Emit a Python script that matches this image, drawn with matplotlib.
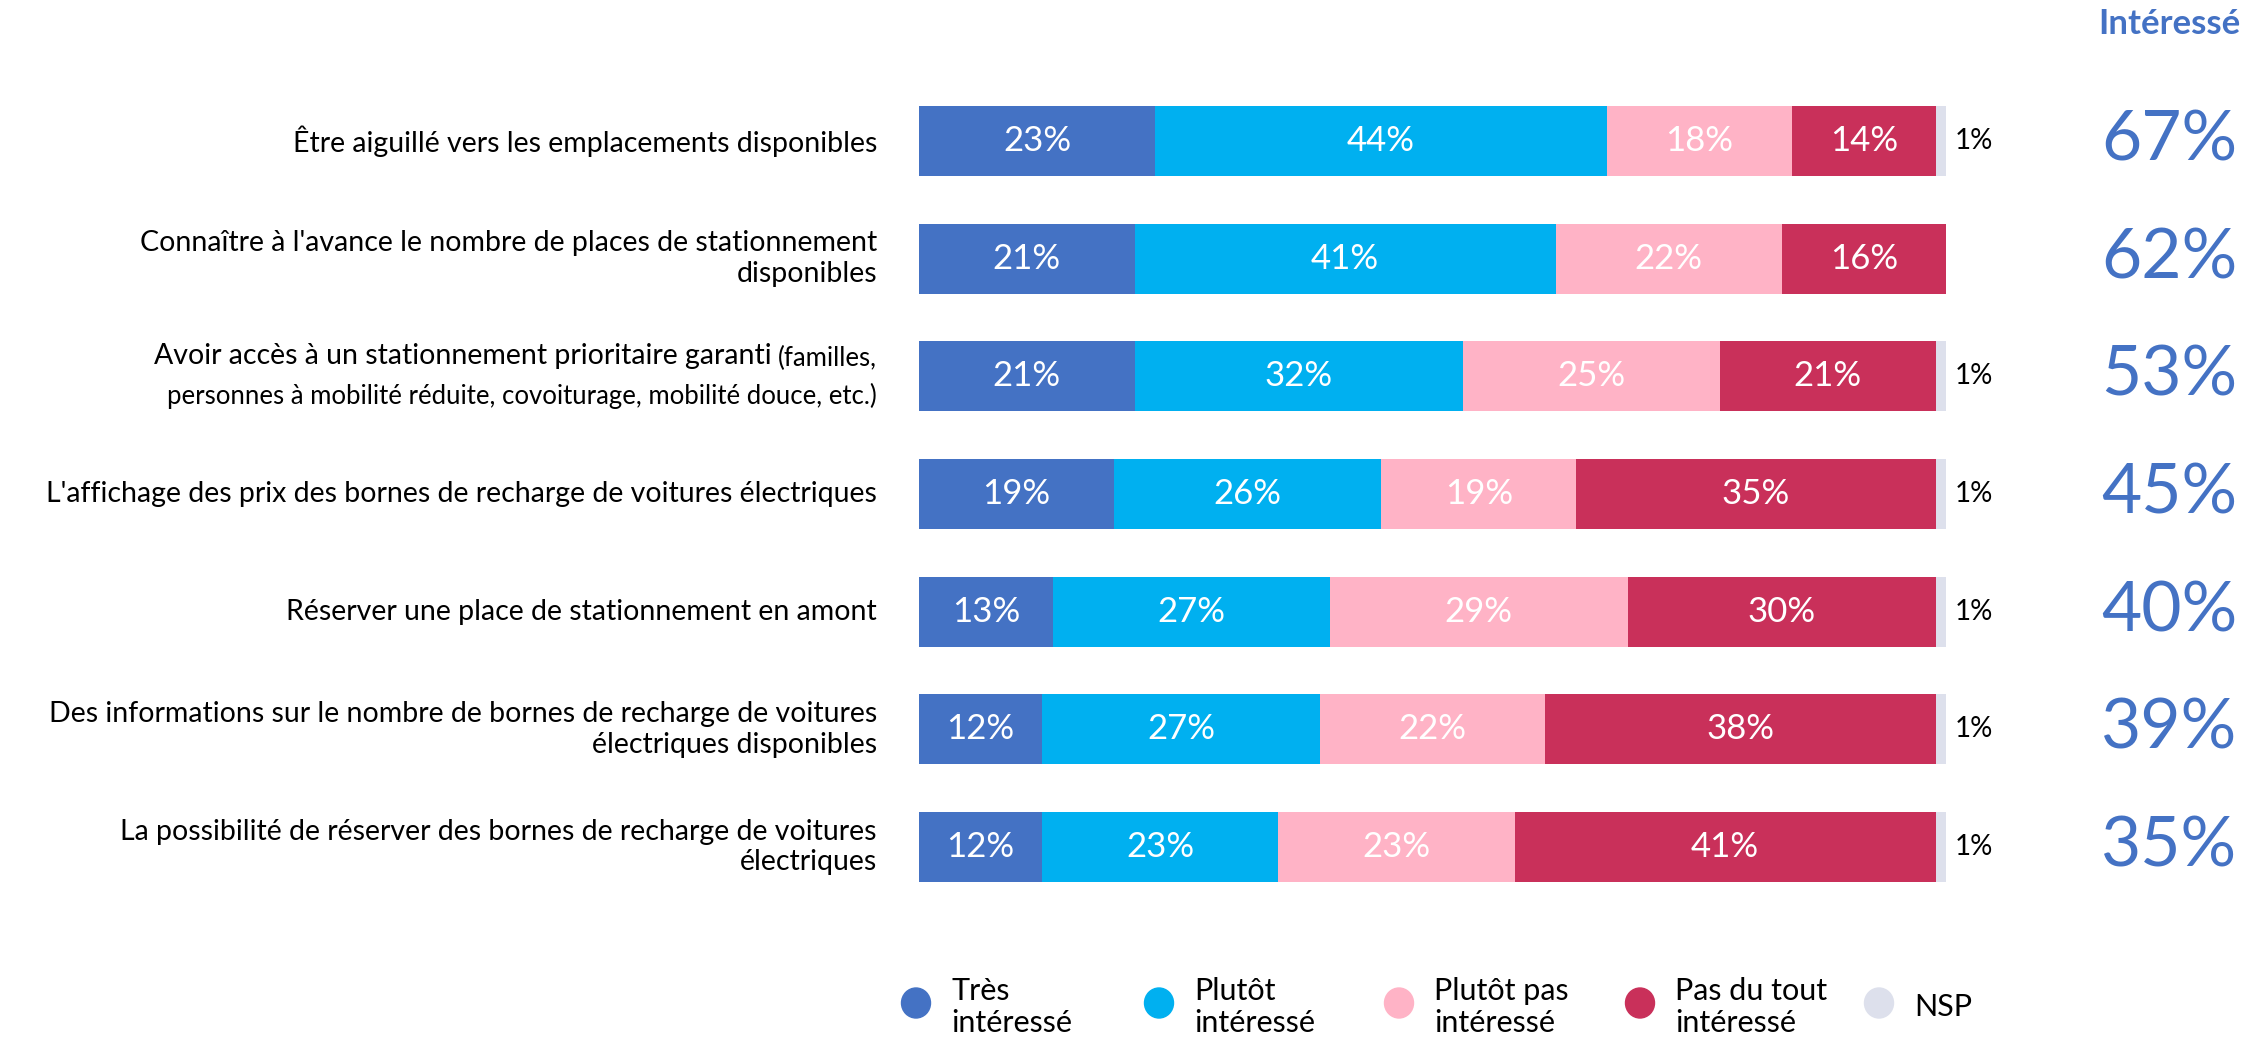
import matplotlib
matplotlib.use("Agg")
import matplotlib.pyplot as plt
from matplotlib.patches import Ellipse

FONT = ['Lato', 'DejaVu Sans']
plt.rcParams['font.family'] = FONT

categories = [
    "Être aiguillé vers les emplacements disponibles",
    "Connaître à l'avance le nombre de places de stationnement\ndisponibles",
    "Avoir accès à un stationnement prioritaire garanti",
    "L'affichage des prix des bornes de recharge de voitures électriques",
    "Réserver une place de stationnement en amont",
    "Des informations sur le nombre de bornes de recharge de voitures\nélectriques disponibles",
    "La possibilité de réserver des bornes de recharge de voitures\nélectriques",
]
cat3_small_line1 = "(familles,"
cat3_small_line2 = "personnes à mobilité réduite, covoiturage, mobilité douce, etc.)"

series_names = ["Très\nintéressé", "Plutôt\nintéressé", "Plutôt pas\nintéressé", "Pas du tout\nintéressé", "NSP"]
tres = [23, 21, 21, 19, 13, 12, 12]
plutot = [44, 41, 32, 26, 27, 27, 23]
plutot_pas = [18, 22, 25, 19, 29, 22, 23]
pas_du_tout = [14, 16, 21, 35, 30, 38, 41]
nsp = [1, 0, 1, 1, 1, 1, 1]
interesse = [67, 62, 53, 45, 40, 39, 35]

colors = ["#4472C4", "#00B0F0", "#FFB3C6", "#C9305A", "#DDE0EC"]

W, H = 2259, 1040
fig = plt.figure(figsize=(W / 100, H / 100), dpi=100)

ax_left, ax_right = 919, 1946
ax_top, ax_bot = 82, 906
ax = fig.add_axes([ax_left / W, 1 - ax_bot / H, (ax_right - ax_left) / W, (ax_bot - ax_top) / H])
ax.set_xlim(0, 100)
n = len(categories)
ax.set_ylim(n - 0.5, -0.5)
ax.axis('off')

series = [tres, plutot, plutot_pas, pas_du_tout, nsp]
ypos = list(range(n))
left = [0] * n
for k, vals in enumerate(series):
    ax.barh(ypos, vals, left=left, height=0.595, color=colors[k], edgecolor='none')
    for i, v in enumerate(vals):
        if v <= 0:
            continue
        if k < 4:
            ax.text(left[i] + v / 2, i, f"{v}%", ha='center', va='center',
                    color='white', fontsize=25)
        else:
            ax.text(left[i] + v + 0.8, i, f"{v}%", ha='left', va='center',
                    color='black', fontsize=20)
    left = [l + v for l, v in zip(left, vals)]

# category labels
lab_x = (877 - ax_left) / (ax_right - ax_left)
ytr = ax.get_yaxis_transform()
LFS = 20.5
for i, c in enumerate(categories):
    if i == 2:
        continue
    ax.text(lab_x, i, c, ha='right', va='center', fontsize=LFS, transform=ytr,
            multialignment='right', linespacing=1.2)

# row 3 with mixed sizes
fig.canvas.draw()
renderer = fig.canvas.get_renderer()
SFS = 18.5
small = ax.text(lab_x, 2 - 0.155, cat3_small_line1, ha='right', va='center', fontsize=SFS,
                transform=ytr)
ax.text(lab_x, 2 + 0.17, cat3_small_line2, ha='right', va='center', fontsize=SFS,
        transform=ytr)
bb = small.get_window_extent(renderer)
x_px_main = bb.x0 - 6
x_ax_main = ax.transAxes.inverted().transform((x_px_main, 0))[0]
ax.text(x_ax_main, 2 - 0.17, categories[2], ha='right', va='center', fontsize=LFS,
        transform=ytr)

# Intéressé column
col_x = (2169 - ax_left) / (ax_right - ax_left)
for i, v in enumerate(interesse):
    ax.text(col_x, i, f"{v}%", ha='center', va='center', fontsize=50,
            color="#4472C4", transform=ytr)
fig.text(2169 / W, 1 - 24 / H, "Intéressé", ha='center', va='center', fontsize=25,
         fontweight='bold', color="#4472C4")

# legend
leg_x = [916, 1159, 1399, 1640, 1879]
leg_y = 1003
for k, name in enumerate(series_names):
    e = Ellipse((leg_x[k] / W, 1 - leg_y / H), 29 / W, 30 / H, transform=fig.transFigure,
                color=colors[k])
    fig.add_artist(e)
    fig.text((leg_x[k] + 35) / W, 1 - (leg_y + 4) / H, name, ha='left', va='center',
             fontsize=22, linespacing=1.2)

fig.savefig("out.png", dpi=100, facecolor='white')
